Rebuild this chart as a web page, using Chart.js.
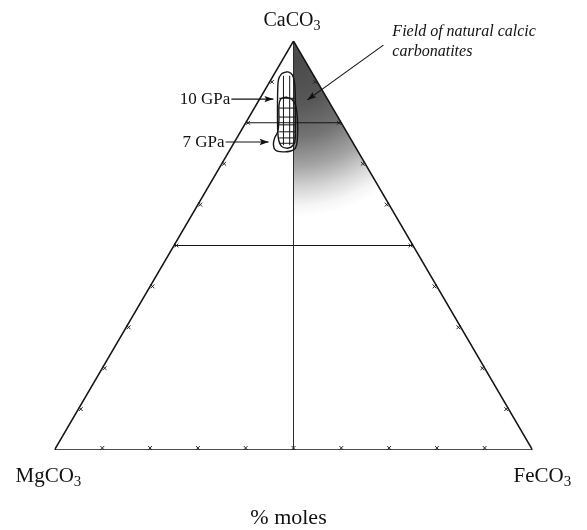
<!DOCTYPE html>
<html>
<head>
<meta charset="utf-8">
<script src="https://cdn.jsdelivr.net/npm/chart.js@4/dist/chart.umd.min.js"></script>
<style>
  html, body { margin: 0; padding: 0; background: #fff; }
  canvas { display: block; }
</style>
</head>
<body>
<canvas id="ternary" width="587" height="530"></canvas>
<script>
// ---- Diagram content ------------------------------------------------------
// End members: apex, lower left, lower right
const endMembers = ['CaCO3', 'MgCO3', 'FeCO3'];
const axisTitle = '% moles';

// Tick marks along every side, in mol %
const tickSteps = [10, 20, 30, 40, 50, 60, 70, 80, 90];

// CaCO3 isopleths drawn right across the triangle (mol % CaCO3)
const caIsopleths = [80, 50];

// Melting-field contours, as [CaCO3, FeCO3] mol % (MgCO3 is the rest)
const contour10GPa = [
  [92.4, 2.1], [91.9, 1.5], [90.5, 1.6], [88.0, 2.7], [83.1, 5.1],
  [78.2, 7.6], [75.8, 9.0], [74.3, 10.3], [73.8, 11.6], [74.1, 12.5],
  [75.3, 12.6], [78.2, 11.3], [85.6, 7.6], [90.0, 5.2], [91.7, 3.9],
  [92.4, 2.8], [92.4, 2.1]
];
const contour7GPa = [
  [86.3, 5.2], [85.8, 4.4], [84.1, 4.9], [80.7, 6.6], [77.8, 7.8],
  [76.3, 7.9], [74.6, 8.5], [73.3, 9.6], [72.9, 11.3], [73.1, 12.9],
  [73.8, 13.5], [75.8, 12.9], [80.7, 10.5], [84.4, 8.2], [85.8, 6.7],
  [86.3, 5.2]
];

// Experimental grid inside the contours
const gridCa = [86.0, 83.6, 81.4, 79.5, 77.8, 76.3, 75.0];   // constant CaCO3
const gridCaSpan = [-6.0, 0.6];                               // FeCO3 - MgCO3 range
const gridFeMinusMg = [-4.2, -1.6];                           // constant FeCO3 - MgCO3
const gridFeMgSpan = [74.5, 91.5];                            // CaCO3 range

// Field of natural calcic carbonatites: [CaCO3, FeCO3] outline (shaded)
const carbonatiteField = [
  [100, 0], [45, 55], [45, 27.5], [100, 0]
];

// Labelled arrows, in diagram units (x across, y = mol % CaCO3)
const arrowLabels = ['10 GPa', '7 GPa', 'Field of natural calcic|carbonatites'];
const arrowTails = [[37.0, 85.8], [35.8, 75.3], [68.8, 99.0]];
const arrowTips = [[45.8, 85.8], [44.8, 75.3], [52.9, 85.6]];

// ---- Helpers ---------------------------------------------------------------
// Ternary composition -> diagram coordinates
const pt = (ca, fe) => ({ x: fe + ca / 2, y: ca });
const line = (pts, extra = {}) => Object.assign({
  data: pts, showLine: true, pointRadius: 0, borderColor: '#151515',
  borderWidth: 1.1, fill: false, tension: 0, order: 1
}, extra);

const datasets = [];

// shaded carbonatite field (drawn first, underneath everything)
datasets.push(line(carbonatiteField.map(([c, f]) => pt(c, f)), {
  borderWidth: 0, borderColor: 'rgba(0,0,0,0)', fill: 'shape', order: 10,
  backgroundColor: (ctx) => {
    const chart = ctx.chart;
    if (!chart.chartArea) return '#888';
    const sx = chart.scales.x, sy = chart.scales.y;
    const cx = sx.getPixelForValue(50), cy = sy.getPixelForValue(96);
    const g = chart.ctx.createRadialGradient(cx, cy, 0, cx, cy, 160);
    g.addColorStop(0, '#494949');
    g.addColorStop(0.3, '#585858');
    g.addColorStop(0.5, '#747474');
    g.addColorStop(0.68, '#a4a4a4');
    g.addColorStop(0.82, '#d6d6d6');
    g.addColorStop(0.93, '#f6f6f6');
    g.addColorStop(1, '#ffffff');
    return g;
  }
}));

// triangle outline
datasets.push(line([pt(100, 0), pt(0, 0), pt(0, 100), pt(100, 0)], { borderWidth: 1.5 }));

// Mg/Fe = 1 join
datasets.push(line([pt(100, 0), pt(0, 50)], { borderWidth: 1, borderColor: '#2a2a2a' }));

// CaCO3 isopleths
caIsopleths.forEach(c => datasets.push(line([pt(c, 0), pt(c, 100 - c)], { borderWidth: 1.1 })));

// tick marks, nudged just inside each side
const d = 0.5;
const ticks = [];
tickSteps.forEach(t => {
  ticks.push(pt(d, t - d / 2));          // base (MgCO3-FeCO3)
  ticks.push(pt(t, d));                  // left side (MgCO3-CaCO3)
  ticks.push(pt(t, 100 - t - d));        // right side (CaCO3-FeCO3)
});
datasets.push({
  data: ticks, showLine: false, pointStyle: 'crossRot', pointRadius: 2.7,
  borderColor: '#222', borderWidth: 1, pointHoverRadius: 0, order: 1
});

// experimental grid
gridCa.forEach(c => {
  const [a, b] = gridCaSpan;
  datasets.push(line([{ x: 50 + a / 2, y: c }, { x: 50 + b / 2, y: c }], { borderWidth: 1, order: 0 }));
});
gridFeMinusMg.forEach(v => {
  const [a, b] = gridFeMgSpan;
  datasets.push(line([{ x: 50 + v / 2, y: a }, { x: 50 + v / 2, y: b }], { borderWidth: 1, order: 0 }));
});

// contours
datasets.push(line(contour10GPa.map(([c, f]) => pt(c, f)), { borderWidth: 1.4, tension: 0.35, order: 0 }));
datasets.push(line(contour7GPa.map(([c, f]) => pt(c, f)), { borderWidth: 1.4, tension: 0.35, order: 0 }));

// ---- Text and arrows ------------------------------------------------------
const SERIF = '"Liberation Serif", "Times New Roman", serif';

function drawFormula(ctx, text, left, baseline, size) {
  const m = text.match(/^(.*?)(\d+)$/);
  const main = m ? m[1] : text, sub = m ? m[2] : '';
  ctx.textAlign = 'left';
  ctx.textBaseline = 'alphabetic';
  ctx.font = `${size}px ${SERIF}`;
  ctx.fillText(main, left, baseline);
  const w = ctx.measureText(main).width;
  ctx.font = `${Math.round(size * 0.7)}px ${SERIF}`;
  ctx.fillText(sub, left + w, baseline + size * 0.2);
}

function arrowHead(ctx, x0, y0, x1, y1, len, half) {
  const a = Math.atan2(y1 - y0, x1 - x0);
  ctx.beginPath();
  ctx.moveTo(x1, y1);
  ctx.lineTo(x1 - len * Math.cos(a) + half * Math.sin(a), y1 - len * Math.sin(a) - half * Math.cos(a));
  ctx.lineTo(x1 - len * Math.cos(a) * 0.8, y1 - len * Math.sin(a) * 0.8);
  ctx.lineTo(x1 - len * Math.cos(a) - half * Math.sin(a), y1 - len * Math.sin(a) + half * Math.cos(a));
  ctx.closePath();
  ctx.fill();
}

const labelsPlugin = {
  id: 'ternaryLabels',
  afterDatasetsDraw(chart) {
    const { ctx, scales: { x, y } } = chart;
    const px = p => [x.getPixelForValue(p.x), y.getPixelForValue(p.y)];
    const [ax, ay] = px(pt(100, 0));
    const [lx, ly] = px(pt(0, 0));
    const [rx, ry] = px(pt(0, 100));
    ctx.save();
    ctx.fillStyle = '#111';
    ctx.strokeStyle = '#111';

    drawFormula(ctx, endMembers[0], ax - 30, ay - 15, 20);
    drawFormula(ctx, endMembers[1], lx - 39, ly + 32, 21);
    drawFormula(ctx, endMembers[2], rx - 19, ry + 32, 21);

    ctx.font = `22px ${SERIF}`;
    ctx.textAlign = 'center';
    ctx.fillText(axisTitle, (lx + rx) / 2 - 5, ly + 74);

    arrowLabels.forEach((label, i) => {
      const [tx, ty] = [x.getPixelForValue(arrowTails[i][0]), y.getPixelForValue(arrowTails[i][1])];
      const [hx, hy] = [x.getPixelForValue(arrowTips[i][0]), y.getPixelForValue(arrowTips[i][1])];
      ctx.lineWidth = 1.1;
      ctx.beginPath();
      ctx.moveTo(tx, ty);
      ctx.lineTo(hx, hy);
      ctx.stroke();
      arrowHead(ctx, tx, ty, hx, hy, 9, 3.2);
      const lines = label.split('|');
      if (lines.length === 1) {
        ctx.font = `17px ${SERIF}`;
        ctx.textAlign = 'right';
        ctx.fillText(label, tx - 1, ty + 5);
      } else {
        ctx.font = `italic 16px ${SERIF}`;
        ctx.textAlign = 'left';
        lines.forEach((t, k) => ctx.fillText(t, tx + 9, ty - 9 + k * 20));
      }
    });
    ctx.restore();
  }
};

new Chart(document.getElementById('ternary'), {
  type: 'scatter',
  data: { datasets },
  options: {
    responsive: false,
    animation: false,
    layout: { padding: { left: 54.5, right: 54.5, top: 41, bottom: 80 } },
    scales: {
      x: { type: 'linear', min: 0, max: 100, display: false },
      y: { type: 'linear', min: 0, max: 100, display: false }
    },
    plugins: { legend: { display: false }, tooltip: { enabled: false } },
    events: []
  },
  plugins: [labelsPlugin]
});
</script>
</body>
</html>
